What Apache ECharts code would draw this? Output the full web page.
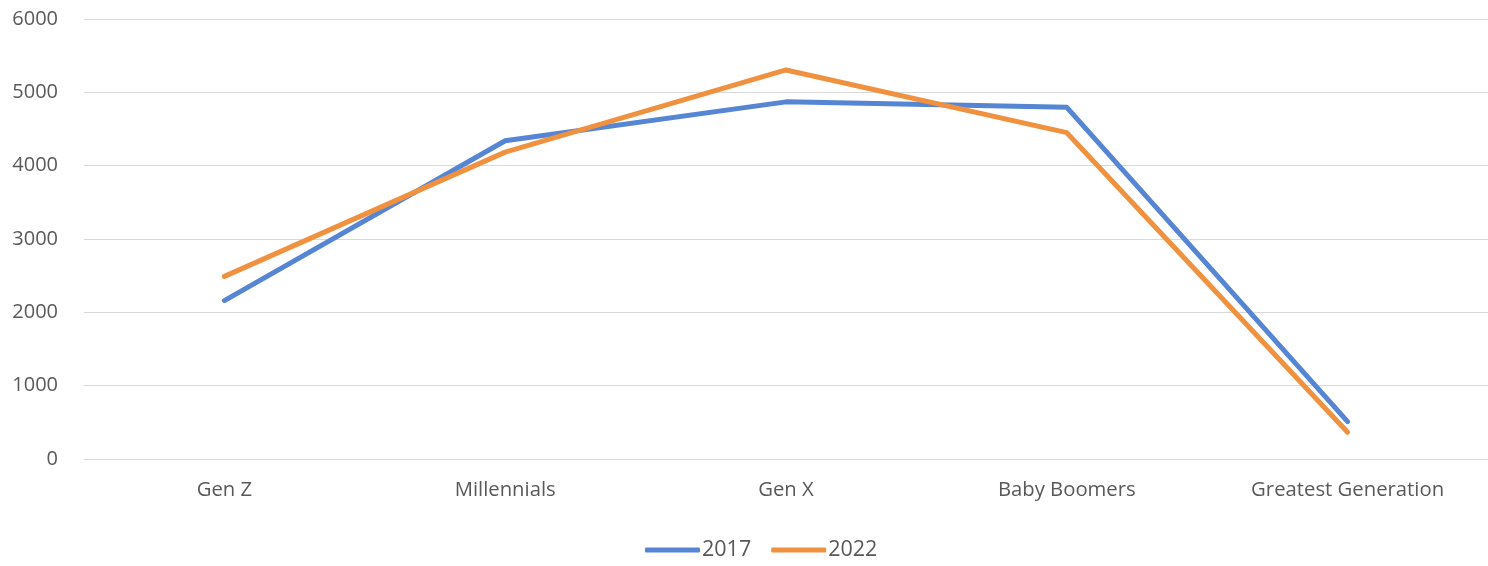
<!DOCTYPE html>
<html>
<head>
<meta charset="utf-8">
<script src="https://cdn.jsdelivr.net/npm/echarts@6/dist/echarts.min.js"></script>
<style>
html,body{margin:0;padding:0;background:#fff;}
#chart{width:1488px;height:566px;}
</style>
</head>
<body>
<div id="chart"></div>
<script>
const categories = ['Gen Z', 'Millennials', 'Gen X', 'Baby Boomers', 'Greatest Generation'];
const values2017 = [2160, 4340, 4870, 4795, 510];
const values2022 = [2490, 4185, 5305, 4450, 365];
const seriesNames = ['2017', '2022'];

const chart = echarts.init(document.getElementById('chart'));
const font = '"Open Sans", Lato, sans-serif';
chart.setOption({
  animation: false,
  backgroundColor: '#ffffff',
  grid: { left: 84, width: 1406, top: 19, bottom: 107, containLabel: false },
  legend: {
    data: seriesNames,
    bottom: 5,
    left: 645,
    padding: 0,
    icon: 'roundRect',
    itemWidth: 55,
    itemHeight: 5,
    itemGap: 20,
    textStyle: { fontFamily: font, fontSize: 21.5, color: '#595959', padding: [0, 0, 0, -3] }
  },
  xAxis: {
    type: 'category',
    data: categories,
    boundaryGap: true,
    axisLine: { show: true, lineStyle: { color: '#d9d9d9', width: 1 } },
    axisTick: { show: false },
    axisLabel: { fontFamily: font, fontSize: 20.3, color: '#595959', margin: 21 }
  },
  yAxis: {
    type: 'value',
    min: 0, max: 6000, interval: 1000,
    axisLine: { show: false },
    axisTick: { show: false },
    splitLine: { lineStyle: { color: '#d9d9d9', width: 1 } },
    axisLabel: { fontFamily: font, fontSize: 20, color: '#595959', margin: 26, formatter: v => String(v) }
  },
  series: [
    {
      name: seriesNames[0], type: 'line', data: values2017,
      symbol: 'none', color: '#5585d3',
      lineStyle: { width: 5, cap: 'round', join: 'round', color: '#5585d3' }
    },
    {
      name: seriesNames[1], type: 'line', data: values2022,
      symbol: 'none', color: '#f0913f',
      lineStyle: { width: 5, cap: 'round', join: 'round', color: '#f0913f' }
    }
  ]
});
</script>
</body>
</html>
